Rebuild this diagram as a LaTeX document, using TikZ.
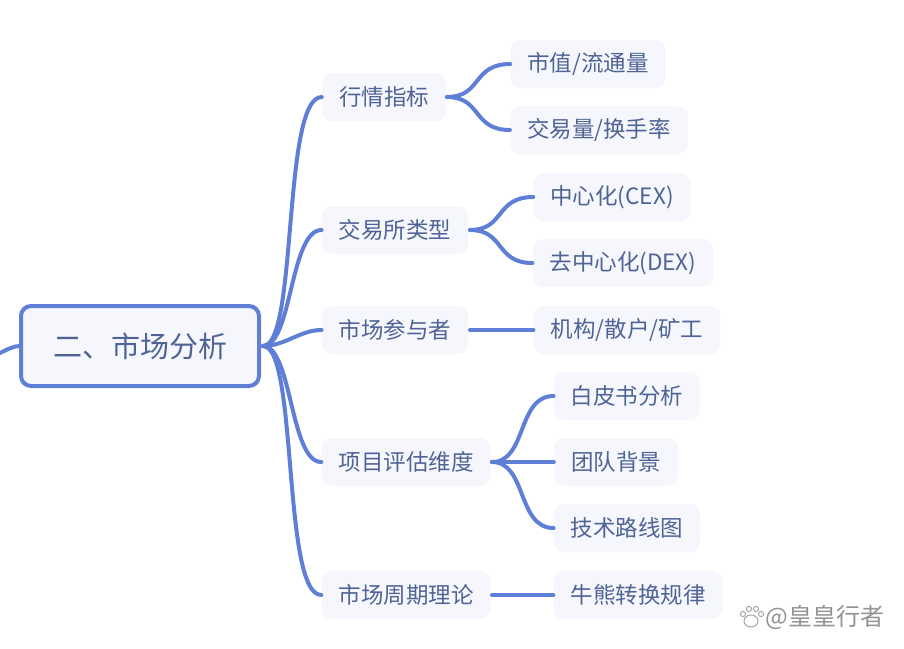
\documentclass[tikz,border=0pt]{standalone}
\usepackage{fontspec}
\setmainfont{Noto Sans CJK SC}
\definecolor{linkblue}{HTML}{5F7FD6}
\definecolor{chipfill}{HTML}{F5F7FD}
\definecolor{inkblue}{HTML}{4F6395}
\tikzset{
  rootbox/.style={draw=linkblue,line width=4pt,rounded corners=10pt,fill=chipfill,text=inkblue,minimum width=238pt,minimum height=80pt,font=\fontsize{29}{29}\selectfont},
  chip/.style={fill=chipfill,rounded corners=10pt,text=inkblue,minimum height=48pt,inner xsep=17pt,inner ysep=0pt,font=\fontsize{22.5}{22.5}\selectfont},
  link/.style={draw=linkblue,line width=4pt,line cap=round},
  paw/.style={draw=gray!70,fill=white,line width=1pt},
}
\begin{document}
\begin{tikzpicture}[x=1pt,y=-1pt]
  \useasboundingbox (0,0) rectangle (904,648);
  % second level
  \node[chip] (quote) at (384,97) {行情指标};
  \node[chip] (exch) at (395,230) {交易所类型};
  \node[chip] (part) at (395,330) {市场参与者};
  \node[chip] (eval) at (406,462) {项目评估维度};
  \node[chip] (cycle) at (406,595) {市场周期理论};
  % third level
  \node[chip] (cap) at (588,64) {市值/流通量};
  \node[chip] (vol) at (599,130) {交易量/换手率};
  \node[chip] (cex) at (612,197) {中心化(CEX)};
  \node[chip] (dex) at (623,263) {去中心化(DEX)};
  \node[chip] (inst) at (627,330) {机构/散户/矿工};
  \node[chip] (paper) at (627,396) {白皮书分析};
  \node[chip] (team) at (616,462) {团队背景};
  \node[chip] (road) at (627,528) {技术路线图};
  \node[chip] (rule) at (638,595) {牛熊转换规律};
  \coordinate (hub) at (263,346);
  \coordinate (prev) at (0,353);
  % links from root
  \draw[link] (prev) .. controls (8,349) and (14,346) .. (20,346);
  \draw[link] (hub) .. controls (298,346) and (282,97) .. (quote.west);
  \draw[link] (hub) .. controls (292,346) and (290,230) .. (exch.west);
  \draw[link] (hub) .. controls (285,346) and (300,330) .. (part.west);
  \draw[link] (hub) .. controls (292,346) and (290,462) .. (eval.west);
  \draw[link] (hub) .. controls (298,346) and (282,595) .. (cycle.west);
  % links to leaves
  \draw[link] (447,97) .. controls (482,97) and (472,64) .. (cap.west);
  \draw[link] (447,97) .. controls (482,97) and (472,130) .. (vol.west);
  \draw[link] (470,230) .. controls (505,230) and (495,197) .. (cex.west);
  \draw[link] (470,230) .. controls (505,230) and (495,263) .. (dex.west);
  \draw[link] (470,330) -- (inst.west);
  \draw[link] (492,462) .. controls (527,462) and (517,396) .. (paper.west);
  \draw[link] (492,462) -- (team.west);
  \draw[link] (492,462) .. controls (527,462) and (517,528) .. (road.west);
  \draw[link] (492,595) -- (rule.west);
  \node[rootbox] (root) at (140,346) {二、市场分析};
  % watermark
  \node[text=gray!85,font=\fontsize{24}{24}\selectfont] (mark) at (825,617) {@皇皇行者};
  \draw[paw] (751,621) ellipse (7pt and 6pt);
  \foreach \px/\py in {743/614,749/609,756/609,761/614}
    \draw[paw] (\px,\py) circle (2.6pt);
\end{tikzpicture}
\end{document}
